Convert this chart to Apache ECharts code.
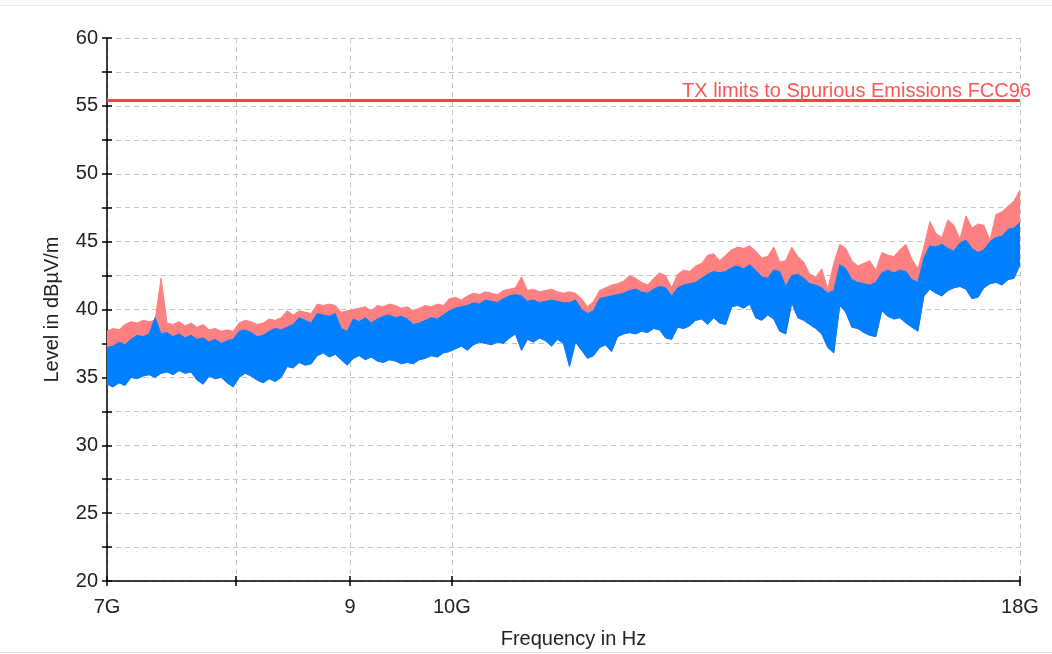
<!DOCTYPE html>
<html><head><meta charset="utf-8">
<script src="https://cdn.jsdelivr.net/npm/echarts@6/dist/echarts.min.js"></script>
<style>html,body{margin:0;padding:0;background:#fff}#c{width:1052px;height:654px}</style>
</head><body><div id="c"></div><script>
// Sweep (GHz), log-spaced measurement points
const fStartGHz = 7, fStopGHz = 18;
const xTickValues = [7, 8, 9, 10, 18];
const xLabelValues = [7, 9, 10, 18];
const xLabelText = {7: '7G', 9: '9', 10: '10G', 18: '18G'};
const yMin = 20, yMax = 60, yStep = 2.5;
const limitLevel = 55.4;
const limitName = 'TX limits to Spurious Emissions FCC96';

// Peak trace upper envelope (dBµV/m)
const peakTop = [
 38.4,38.6,38.5,38.9,39.1,39.0,39.2,39.1,39.2,42.3,39.0,38.9,39.1,38.8,39.0,38.7,38.9,38.5,38.6,38.4,38.5,38.4,39.0,39.2,39.1,
 38.9,39.0,39.3,39.2,39.4,39.9,39.6,39.9,39.8,39.7,40.4,40.3,40.4,40.3,39.8,39.9,40.0,40.1,40.2,39.9,40.3,40.2,40.4,40.3,40.1,40.2,
 39.9,40.1,40.3,40.2,40.4,40.3,40.8,40.9,40.7,41.0,41.2,41.1,41.3,41.2,41.1,41.4,41.5,41.6,42.4,41.4,41.5,41.3,41.4,41.5,41.3,41.2,
 41.3,41.2,40.8,40.2,40.6,41.4,41.6,41.8,41.9,42.1,42.5,42.3,42.0,41.8,42.3,42.7,42.5,41.6,42.6,42.9,42.8,43.2,43.4,44.0,44.1,43.6,
 44.0,44.4,44.6,44.5,44.7,44.3,43.8,43.9,44.6,43.5,43.6,44.6,43.9,43.5,42.6,42.4,43.0,41.5,43.4,44.8,44.5,43.6,43.2,43.4,43.6,
 42.9,44.2,44.0,43.9,44.4,44.8,43.7,43.0,44.6,46.5,45.6,45.3,46.6,46.2,45.2,46.9,46.0,46.3,46.2,45.1,47.0,47.2,47.6,48.0,48.8
];
// Average trace upper envelope
const avgTop = [
 37.2,37.3,37.6,37.4,37.8,38.1,38.0,38.2,39.4,38.2,38.3,38.0,38.2,37.9,38.1,37.8,37.9,37.6,37.8,37.5,37.7,37.8,38.4,38.5,38.3,
 38.0,38.1,38.4,38.6,38.5,38.7,38.9,39.4,39.2,39.0,39.7,39.6,39.5,39.7,38.6,38.4,39.3,39.1,39.4,39.0,39.3,39.5,39.6,39.4,39.5,39.3,
 38.9,39.0,39.2,39.4,39.3,39.6,39.9,40.1,40.2,40.3,40.5,40.4,40.7,40.6,40.5,40.8,41.0,41.1,41.0,40.6,40.7,40.5,40.6,40.7,40.6,40.5,
 40.5,40.7,40.0,39.7,39.9,40.8,40.9,41.0,41.1,41.2,41.4,41.5,41.3,41.2,41.5,41.7,41.6,41.0,41.6,41.8,41.9,42.0,42.3,42.6,42.8,42.7,
 42.8,43.1,43.2,43.0,43.3,42.9,42.4,42.3,42.9,42.8,41.7,42.5,42.6,42.3,41.9,41.8,41.6,41.2,41.4,43.3,43.0,42.2,42.0,41.9,41.8,
 42.0,42.7,42.9,42.7,42.9,42.8,42.2,42.0,43.8,44.7,44.6,44.8,44.5,44.3,44.9,45.1,44.5,44.2,44.4,45.0,45.3,45.4,45.9,46.0,46.4
];
// Average trace lower envelope
const avgBottom = [
 34.5,34.3,34.6,34.4,35.0,34.9,35.1,35.2,35.0,35.3,35.4,35.2,35.5,35.3,35.4,34.8,34.5,35.1,34.9,35.0,34.6,34.3,35.0,35.3,35.1,
 34.8,34.6,34.9,34.7,35.0,35.8,35.7,36.1,35.9,36.0,36.6,36.8,36.5,36.7,36.3,35.9,36.4,36.6,36.3,36.5,36.2,36.1,36.3,36.2,36.0,36.1,
 36.0,36.3,36.4,36.6,36.5,36.8,36.9,37.1,37.3,37.0,37.4,37.6,37.5,37.4,37.6,37.5,37.9,38.2,37.0,37.8,37.6,37.9,37.7,37.3,37.8,37.5,
 35.8,37.6,37.0,36.4,36.6,37.2,37.4,36.9,38.0,38.2,38.3,38.2,38.4,38.3,38.6,38.5,37.9,37.8,38.7,38.6,38.8,39.2,39.3,38.9,39.4,39.0,
 38.9,40.2,40.3,40.1,40.4,39.4,39.2,39.6,39.3,38.4,38.2,40.5,39.4,39.2,38.9,38.6,38.2,37.2,36.8,40.3,39.8,38.7,38.6,38.3,38.1,
 38.0,39.9,39.5,39.3,39.4,39.0,38.7,38.4,41.0,41.5,41.2,41.0,41.4,41.6,41.7,41.5,40.8,40.9,41.6,41.9,42.0,41.8,42.2,42.3,43.3
];

const N = peakTop.length;
const freqs = peakTop.map((_, i) => fStartGHz * Math.pow(fStopGHz / fStartGHz, i / (N - 1)));

const FONT = "'Liberation Sans', Arial, sans-serif";
const txt = '#222';
const gridLine = {show: true, lineStyle: {color: '#c4c4c4', width: 1, type: [5, 4]}};
const axisLn = {show: true, onZero: false, lineStyle: {color: '#000', width: 1.5}};
const tickLn = {color: '#000', width: 1.5};

// Band between the average trace's lower envelope and a given upper envelope
function bandSeries(name, topArr, color, z) {
  return {
    type: 'custom', name: name, z: z, silent: true, clip: true,
    data: freqs.map((f, i) => [f, avgBottom[i], topArr[i]]),
    encode: {x: 0, y: [1, 2]},
    renderItem: function (params, api) {
      if (params.dataIndex !== 0) return null;
      const pts = [];
      for (let i = 0; i < N; i++) pts.push(api.coord([freqs[i], topArr[i]]));
      for (let i = N - 1; i >= 0; i--) pts.push(api.coord([freqs[i], avgBottom[i]]));
      return {type: 'polygon', shape: {points: pts},
        style: {fill: color, stroke: color, lineWidth: 1}};
    }
  };
}

const chart = echarts.init(document.getElementById('c'), null, {renderer: 'canvas'});
chart.setOption({
  animation: false,
  backgroundColor: '#fff',
  grid: {left: 107, right: 32, top: 38, bottom: 73, containLabel: false},
  xAxis: [{
    type: 'log', logBase: 10, min: fStartGHz, max: fStopGHz, position: 'bottom',
    axisLine: axisLn,
    axisTick: {show: true, length: 5, customValues: xTickValues, lineStyle: tickLn},
    axisLabel: {customValues: xLabelValues, formatter: v => xLabelText[Math.round(v)] || '',
      color: txt, fontSize: 20, fontFamily: FONT, margin: 16},
    splitLine: gridLine,
    name: 'Frequency in Hz', nameLocation: 'middle', nameGap: 48,
    nameTextStyle: {color: txt, fontSize: 20, fontFamily: FONT, padding: [0, 0, 0, 20]}
  }, {
    type: 'log', logBase: 10, min: fStartGHz, max: fStopGHz, position: 'bottom',
    axisLine: {show: false, onZero: false},
    axisTick: {show: true, inside: true, length: 5, customValues: xTickValues, lineStyle: tickLn},
    axisLabel: {show: false}, splitLine: {show: false}
  }],
  yAxis: [{
    type: 'value', min: yMin, max: yMax, interval: yStep, position: 'left',
    axisLine: axisLn,
    axisTick: {show: true, length: 5, lineStyle: tickLn},
    axisLabel: {formatter: v => (v % 5 === 0 ? String(v) : ''), color: txt, fontSize: 20, fontFamily: FONT, margin: 9},
    splitLine: gridLine,
    name: 'Level in dBµV/m', nameLocation: 'middle', nameGap: 45,
    nameTextStyle: {color: txt, fontSize: 20, fontFamily: FONT}
  }, {
    type: 'value', min: yMin, max: yMax, interval: yStep, position: 'left',
    axisLine: {show: false, onZero: false},
    axisTick: {show: true, inside: true, length: 5, lineStyle: tickLn},
    axisLabel: {show: false}, splitLine: {show: false}
  }],
  series: [
    bandSeries('Peak', peakTop, '#ff8080', 2),
    bandSeries('Average', avgTop, '#0080ff', 3),
    {type: 'line', name: 'Limit', data: [], silent: true, z: 4,
      markLine: {symbol: 'none', silent: true, animation: false,
        lineStyle: {color: '#ff4040', width: 3, type: 'solid'},
        label: {show: true, position: 'insideEndTop', formatter: limitName, color: '#ff5555',
          fontSize: 20, fontFamily: FONT, distance: 2, offset: [13, 3]},
        data: [{yAxis: limitLevel}]}}
  ],
  graphic: [
    {type: 'line', shape: {x1: 0, y1: 5.5, x2: 1052, y2: 5.5}, style: {stroke: '#ececec', lineWidth: 1}, silent: true},
    {type: 'line', shape: {x1: 0, y1: 652.5, x2: 1052, y2: 652.5}, style: {stroke: '#e4e4e4', lineWidth: 1}, silent: true}
  ]
});
</script></body></html>
